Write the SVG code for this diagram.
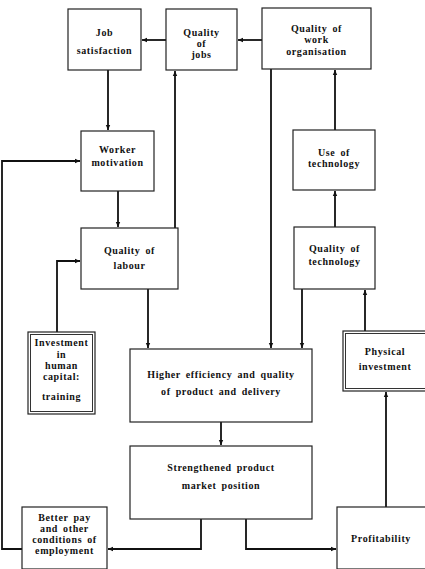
<svg xmlns="http://www.w3.org/2000/svg" width="425" height="569" viewBox="0 0 425 569">
<style>
.box{fill:#fff;stroke:#222;stroke-width:1.2}
.dbl{fill:none;stroke:#333;stroke-width:1}
.t{font-family:"Liberation Serif","DejaVu Serif",serif;font-weight:bold;font-size:10px;letter-spacing:0.6px;word-spacing:2px;fill:#111;text-anchor:middle}
.c{fill:none;stroke:#111;stroke-width:1.8;marker-end:url(#ah)}
</style>
<defs>
<marker id="ah" markerWidth="6" markerHeight="6" refX="5" refY="3" orient="auto" markerUnits="userSpaceOnUse">
<path d="M0,0.8 L5,3 L0,5.2 Z" fill="#111"/>
</marker>
</defs>
<rect width="425" height="569" fill="#fff"/>
<g id="connectors">
<path class="c" d="M166,40 H142"/>
<path class="c" d="M262,40 H238"/>
<path class="c" d="M108,70 V130"/>
<path class="c" d="M118,191 V227"/>
<path class="c" d="M175,228 V71"/>
<path class="c" d="M271,69 V348"/>
<path class="c" d="M335,130 V70"/>
<path class="c" d="M335,227 V191"/>
<path class="c" d="M302,289 V348"/>
<path class="c" d="M365,331 V290"/>
<path class="c" d="M386,507 V392"/>
<path class="c" d="M148,289 V348"/>
<path class="c" d="M57,332 V261 H80"/>
<path class="c" d="M221,422 V445"/>
<path class="c" d="M201,519 V549 H108"/>
<path class="c" d="M246,519 V549 H336"/>
<path class="c" d="M22,549 H2 V161 H80"/>
</g>
<g id="job-satisfaction">
<rect class="box" x="68" y="9" width="73" height="61"/>
<text class="t" x="104.5" y="36">Job</text>
<text class="t" x="104.5" y="54">satisfaction</text>
</g>
<g id="quality-of-jobs">
<rect class="box" x="166" y="9" width="71" height="61"/>
<text class="t" x="201.5" y="36">Quality</text>
<text class="t" x="201.5" y="47">of</text>
<text class="t" x="201.5" y="58">jobs</text>
</g>
<g id="quality-of-work-organisation">
<rect class="box" x="262" y="8" width="109" height="61"/>
<text class="t" x="316.5" y="32">Quality of</text>
<text class="t" x="316.5" y="43">work</text>
<text class="t" x="316.5" y="55">organisation</text>
</g>
<g id="worker-motivation">
<rect class="box" x="81" y="131" width="73" height="60"/>
<text class="t" x="117.5" y="153">Worker</text>
<text class="t" x="117.5" y="166">motivation</text>
</g>
<g id="quality-of-labour">
<rect class="box" x="81" y="228" width="97" height="61"/>
<text class="t" x="129.5" y="254">Quality of</text>
<text class="t" x="129.5" y="269">labour</text>
</g>
<g id="use-of-technology">
<rect class="box" x="293" y="130" width="82" height="60"/>
<text class="t" x="334" y="156">Use of</text>
<text class="t" x="334" y="167">technology</text>
</g>
<g id="quality-of-technology">
<rect class="box" x="294" y="227" width="81" height="62"/>
<text class="t" x="334.5" y="252">Quality of</text>
<text class="t" x="334.5" y="265">technology</text>
</g>
<g id="investment-in-human-capital">
<rect class="box" x="28" y="332" width="67" height="82" stroke-width="1.4"/>
<rect class="dbl" x="30.5" y="334.5" width="62" height="77"/>
<text class="t" x="61.5" y="346">Investment</text>
<text class="t" x="61.5" y="358">in</text>
<text class="t" x="61.5" y="369">human</text>
<text class="t" x="61.5" y="380">capital:</text>
<text class="t" x="61.5" y="400">training</text>
</g>
<g id="higher-efficiency">
<rect class="box" x="130" y="349" width="182" height="73"/>
<text class="t" x="221" y="378">Higher efficiency and quality</text>
<text class="t" x="221" y="395">of product and delivery</text>
</g>
<g id="physical-investment">
<rect class="box" x="343" y="331" width="84" height="60" stroke-width="1.4"/>
<rect class="dbl" x="345.5" y="333.5" width="80" height="55"/>
<text class="t" x="385" y="355">Physical</text>
<text class="t" x="385" y="370">investment</text>
</g>
<g id="strengthened-position">
<rect class="box" x="130" y="446" width="182" height="73"/>
<text class="t" x="221" y="471">Strengthened product</text>
<text class="t" x="221" y="489">market position</text>
</g>
<g id="better-pay">
<rect class="box" x="22" y="507" width="85" height="62"/>
<text class="t" x="64.5" y="521">Better pay</text>
<text class="t" x="64.5" y="532">and other</text>
<text class="t" x="64.5" y="543">conditions of</text>
<text class="t" x="64.5" y="554">employment</text>
</g>
<g id="profitability">
<rect class="box" x="337" y="507" width="90" height="62"/>
<text class="t" x="381" y="542">Profitability</text>
</g>
</svg>
